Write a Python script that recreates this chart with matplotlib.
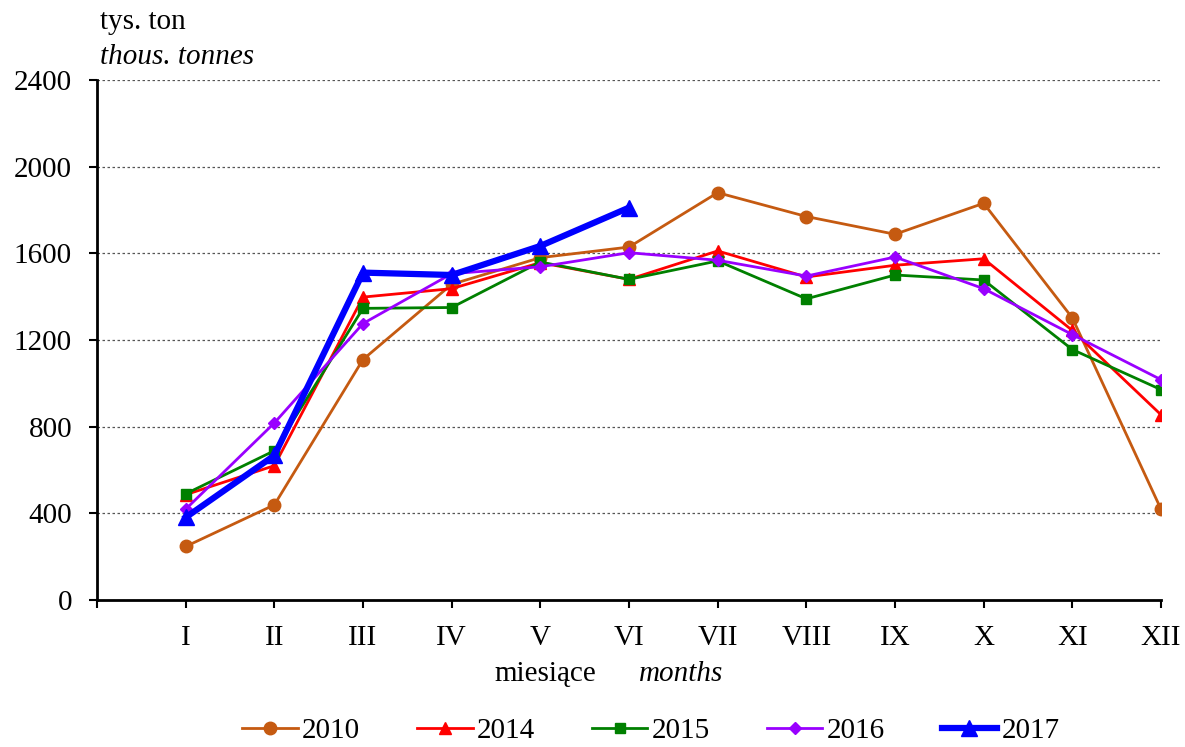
import matplotlib
matplotlib.use("Agg")
import matplotlib.pyplot as plt

plt.rcParams['font.family'] = ['Liberation Serif', 'DejaVu Serif']

months = ['I', 'II', 'III', 'IV', 'V', 'VI', 'VII', 'VIII', 'IX', 'X', 'XI', 'XII']
y2010 = [247, 439, 1110, 1457, 1580, 1629, 1880, 1770, 1688, 1831, 1302, 419]
y2014 = [486, 620, 1398, 1437, 1557, 1480, 1611, 1491, 1545, 1575, 1244, 855]
y2015 = [490, 689, 1346, 1350, 1560, 1480, 1565, 1390, 1500, 1477, 1156, 971]
y2016 = [419, 817, 1276, 1506, 1538, 1603, 1568, 1495, 1583, 1437, 1225, 1017]
y2017 = [381, 667, 1511, 1500, 1634, 1811]

fs = 21

fig = plt.figure(figsize=(11.85, 7.47), dpi=100)
ax = fig.add_axes([97/1185, 1-600/747, (1161-97)/1185, 520/747])

x = list(range(1, 13))
ax.plot(x, y2010, color='#C55A11', lw=2, marker='o', ms=9, label='2010')
ax.plot(x, y2014, color='#FF0000', lw=2, marker='^', ms=9, label='2014')
ax.plot(x, y2015, color='#008000', lw=2, marker='s', ms=7.5, label='2015')
ax.plot(x, y2016, color='#9900FF', lw=2, marker='D', ms=6.5, label='2016')
ax.plot(x[:len(y2017)], y2017, color='#0000FF', lw=4.5, marker='^', ms=12, label='2017', zorder=5)

ax.set_xlim(0, 12)
ax.set_ylim(0, 2400)
ax.set_yticks(range(0, 2401, 400))
ax.set_xticks(range(0, 13))
ax.set_xticklabels([''] + months)
ax.tick_params(axis='both', labelsize=fs, width=1.5, length=6, direction='out')
ax.tick_params(axis='x', pad=12)
ax.tick_params(axis='y', pad=12)
for s in ['top', 'right']:
    ax.spines[s].set_visible(False)
for s in ['left', 'bottom']:
    ax.spines[s].set_linewidth(2)
ax.yaxis.grid(True, ls=(0, (2, 2)), color='#555555', lw=0.9)
ax.set_axisbelow(True)

fig.text(100/1185, 1-22/747, 'tys. ton', fontsize=fs, va='center')
fig.text(100/1185, 1-57/747, 'thous. tonnes', fontsize=fs, style='italic', va='center')
fig.text(545/1185, 1-674/747, 'miesiące', fontsize=fs, ha='center', va='center')
fig.text(681/1185, 1-674/747, 'months', fontsize=fs, style='italic', ha='center', va='center')

fig.legend(loc='center', bbox_to_anchor=(651/1185, 1-731/747), ncol=5, frameon=False,
           fontsize=fs, handlelength=1.9, columnspacing=1.95, handletextpad=0.15)

fig.savefig('out.png', dpi=100)
